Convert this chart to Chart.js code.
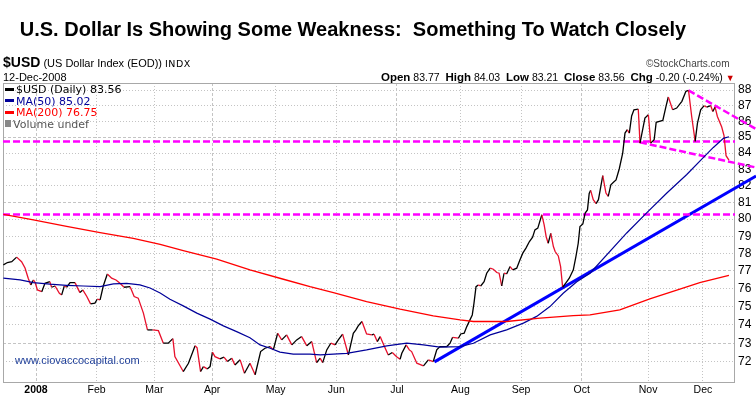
<!DOCTYPE html>
<html>
<head>
<meta charset="utf-8">
<script src="https://cdn.jsdelivr.net/npm/chart.js@4/dist/chart.umd.min.js"></script>
<style>
    body { margin: 0; background: #fff; font-family: 'Liberation Sans', Arial, sans-serif; }
    #wrap { position: relative; width: 756px; height: 398px; overflow: hidden; }
    #chart { position: absolute; left: 0; top: 0; }
    .txt { position: absolute; white-space: nowrap; color: #000; }
    .title { left: 0; width: 706px; top: 18px; text-align: center; font-weight: bold; font-size: 20px; }
    .sym { left: 3px; top: 54px; font-size: 11px; line-height: 16px; }
    .sym b { font-size: 14px; }
    .sym .ex { font-family: 'DejaVu Sans', sans-serif; font-size: 9.5px; letter-spacing: 0.5px; }
    .date { left: 3px; top: 70px; font-size: 11px; line-height: 14px; }
    .copy { left: 646px; top: 57px; color: #444; font-size: 10px; line-height: 14px; }
    .ohlc { left: 381px; top: 70px; font-size: 10.5px; line-height: 14px; }
    .ohlc b { font-size: 11.5px; }
    .ohlc .dn { color: #c00; font-size: 9px; }
    .legend { left: 5px; top: 84px; font-family: 'DejaVu Sans', sans-serif; font-size: 11px; line-height: 11.5px; }
    .legend div { height: 11.5px; }
    .sw { display: inline-block; width: 9px; height: 3px; vertical-align: middle; margin-right: 2px; margin-top: -2px; }
    .web { left: 15px; top: 354px; font-size: 11px; color: #1f3f99; }
</style>
</head>
<body>
<div id="wrap">
    <canvas id="chart" width="756" height="398"></canvas>
    <div class="txt title">U.S. Dollar Is Showing Some Weakness:&nbsp; Something To Watch Closely</div>
    <div class="txt sym"><b>$USD</b> (US Dollar Index (EOD)) <span class="ex">INDX</span></div>
    <div class="txt date">12-Dec-2008</div>
    <div class="txt copy">&copy;StockCharts.com</div>
    <div class="txt ohlc"><b>Open</b> 83.77 &nbsp;<b>High</b> 84.03 &nbsp;<b>Low</b> 83.21 &nbsp;<b>Close</b> 83.56 &nbsp;<b>Chg</b> -0.20 (-0.24%) <span class="dn">&#9660;</span></div>
    <div class="txt legend">
        <div><span class="sw" style="background:#000"></span>$USD (Daily) 83.56</div>
        <div style="color:#000099"><span class="sw" style="background:#000099"></span>MA(50) 85.02</div>
        <div style="color:#ff0000"><span class="sw" style="background:#ff0000"></span>MA(200) 76.75</div>
        <div style="color:#555"><span class="sw" style="background:#888;width:6px;height:7px;margin-top:-3px"></span>Volume undef</div>
    </div>
    <div class="txt web">www.ciovaccocapital.com</div>
</div>
<script>
// x values are trading days counted from 2-Jan-2008 (= 0)
const monthTicks = [0, 21, 41, 61, 83, 104, 125, 147, 168, 189, 212, 231];
const monthLabels = ['2008', 'Feb', 'Mar', 'Apr', 'May', 'Jun', 'Jul', 'Aug', 'Sep', 'Oct', 'Nov', 'Dec'];
const priceTicks = [72, 73, 74, 75, 76, 77, 78, 79, 80, 81, 82, 83, 84, 85, 86, 87, 88];

// $USD daily close
const usdDay = [
    -11.3, -9.9, -8.4, -6.7, -5.0, -3.8, -2.7, -1.8, -0.9, -0.3,
    0.5, 2.0, 3.1, 4.8, 5.4, 6.6, 8.1, 8.9, 9.8, 10.6,
    11.8, 13.5, 15.2, 16.2, 17.6, 18.9, 20.4, 21.2, 22.2, 23.3,
    24.7, 26.2, 27.7, 29.1, 30.5, 32.6, 34.0, 35.4, 37.2, 38.6,
    40.4, 42.4, 44.1, 45.8, 47.4, 48.1, 51.0, 52.8, 55.1, 55.8,
    57.0, 58.0, 59.3, 60.3, 61.1, 62.0, 63.7, 65.1, 66.3, 67.8,
    68.9, 70.7, 72.2, 74.1, 75.9, 77.8, 79.3, 81.1, 82.2, 83.7,
    85.1, 86.8, 88.6, 90.3, 92.0, 93.8, 95.5, 97.2, 98.4, 99.3,
    100.7, 102.1, 103.6, 104.7, 106.2, 108.2, 109.9, 110.8, 111.6, 112.9,
    114.5, 116.3, 117.1, 118.2, 119.2, 120.3, 122.0, 123.4, 124.9, 126.1,
    126.7, 128.2, 129.3, 130.1, 131.9, 134.2, 135.9, 137.6, 138.8, 139.9,
    142.3, 143.4, 144.3, 146.3, 147.1, 148.3, 149.2, 150.3, 151.1, 151.7,
    152.4, 153.2, 154.0, 155.2, 156.1, 157.3, 158.4, 159.6, 160.4, 161.3,
    162.1, 163.0, 164.2, 165.1, 166.5, 167.6, 168.6, 169.7, 170.9, 172.0,
    172.8, 173.8, 175.2, 176.0, 176.7, 177.4, 178.3, 179.2, 179.8, 180.9,
    181.7, 182.4, 183.6, 184.7, 186.1, 187.0, 187.8, 188.4, 189.4, 190.2,
    191.0, 191.6, 192.1, 193.0, 194.0, 194.8, 196.3, 197.4, 198.2, 199.1,
    200.0, 200.9, 202.0, 203.2, 204.0, 204.8, 205.5, 206.3, 207.1, 208.6,
    209.2, 210.9, 212.1, 212.9, 214.1, 214.8, 215.9, 217.1, 218.2, 219.0,
    220.5, 221.9, 223.7, 225.1, 226.0, 227.1, 228.3, 229.1, 230.2, 231.4,
    232.3, 233.7, 234.4, 235.2, 236.0, 237.5, 238.3, 239.0, 240.0
];
const usdClose = [
    77.35, 77.48, 77.53, 77.79, 77.53, 77.17, 76.59, 76.21, 76.49, 76.34,
    75.93, 75.83, 76.30, 76.39, 76.08, 76.15, 75.74, 75.65, 76.15, 76.08,
    76.34, 76.34, 75.78, 75.93, 75.56, 75.15, 75.19, 75.41, 75.37, 76.15,
    76.83, 76.59, 76.49, 76.30, 76.08, 76.11, 75.56, 75.47, 74.64, 73.72,
    73.72, 73.68, 73.00, 73.00, 73.25, 72.28, 71.49, 71.93, 72.86, 72.75,
    71.49, 71.75, 71.63, 71.75, 72.52, 72.28, 72.16, 72.25, 72.02, 72.20,
    71.84, 72.11, 71.40, 71.93, 71.32, 72.55, 72.73, 72.82, 72.64, 73.54,
    73.18, 73.45, 72.91, 73.18, 73.36, 72.86, 73.09, 71.96, 72.20, 71.96,
    72.64, 73.00, 72.91, 73.18, 73.49, 72.37, 73.54, 73.72, 73.94, 74.18,
    73.50, 73.45, 73.49, 73.09, 73.36, 72.96, 72.37, 72.50, 72.28, 72.14,
    72.46, 72.91, 72.64, 72.55, 71.93, 71.79, 72.11, 72.02, 72.64, 72.82,
    72.82, 73.00, 73.32, 73.27, 73.50, 73.54, 73.90, 74.27, 74.54, 75.19,
    76.11, 76.21, 76.15, 76.39, 76.87, 77.16, 77.10, 76.91, 76.87, 76.15,
    76.87, 76.83, 77.25, 77.06, 77.16, 77.63, 78.02, 78.31, 78.69, 78.94,
    79.37, 79.47, 80.26, 79.67, 78.97, 78.59, 79.17, 78.40, 78.11, 77.86,
    77.25, 76.08, 76.34, 76.59, 77.06, 77.82, 78.59, 79.57, 79.72, 80.36,
    80.55, 81.54, 81.72, 81.16, 80.92, 81.16, 82.61, 81.56, 81.36, 82.06,
    82.21, 82.35, 83.02, 84.00, 85.25, 85.46, 85.25, 86.33, 86.73, 86.77,
    84.62, 86.20, 86.41, 84.62, 84.83, 85.93, 85.99, 86.05, 86.95, 87.55,
    86.73, 86.84, 87.27, 87.92, 87.98, 86.30, 84.73, 85.88, 86.73, 86.99,
    86.90, 86.99, 86.62, 86.90, 86.30, 85.63, 85.09, 83.84, 83.56
];

// MA(50)
const ma50Day = [-11.3, -5.5, -0.9, 4.8, 10.6, 16.4, 22.2, 26.8, 31.4, 36.0, 39.5, 43.0, 46.4, 51.0, 55.7, 60.3, 64.9, 69.5, 74.1, 77.6, 81.1, 84.5, 89.1, 94.9, 98.4, 107.6, 114.5, 121.5, 128.4, 134.2, 139.9, 146.9, 151.5, 157.3, 163.0, 168.8, 173.4, 178.0, 182.6, 187.3, 191.9, 204.6, 211.5, 218.5, 225.4, 231.1, 234.6, 238.1, 240.0];
const ma50 = [76.59, 76.49, 76.34, 76.25, 76.19, 76.15, 76.11, 76.27, 76.30, 76.21, 76.04, 75.76, 75.41, 75.04, 74.64, 74.31, 73.94, 73.63, 73.30, 72.91, 72.73, 72.52, 72.41, 72.41, 72.37, 72.46, 72.64, 72.86, 73.00, 72.91, 72.79, 72.82, 73.00, 73.45, 73.72, 74.09, 74.46, 75.00, 75.74, 76.39, 76.87, 79.19, 80.37, 81.56, 82.68, 83.72, 84.35, 84.92, 85.02];

// MA(200)
const ma200Day = [-11.3, -0.9, 10.6, 22.2, 33.7, 43.0, 51.0, 62.6, 74.1, 85.7, 94.9, 103.0, 114.5, 126.1, 137.6, 146.9, 151.5, 163.0, 174.6, 186.1, 191.9, 202.2, 212.6, 223.0, 229.9, 240.0];
const ma200 = [80.29, 79.96, 79.57, 79.21, 78.88, 78.53, 78.17, 77.67, 77.06, 76.53, 76.11, 75.78, 75.28, 74.86, 74.49, 74.27, 74.18, 74.18, 74.36, 74.50, 74.54, 74.82, 75.43, 75.98, 76.34, 76.75];

// drawn annotations (magenta levels / channel, blue uptrend)
const levelValues = [84.72, 80.28];
const upperTrendDay = [226.0, 249.4];
const upperTrendValue = [87.98, 85.5];
const lowerTrendDay = [209.2, 249.4];
const lowerTrendValue = [84.67, 83.11];
const upTrendDay = [138.0, 249.4];
const upTrendValue = [72.0, 82.59];

const X_MIN = -11.43, X_MAX = 242.1;
const Y_MIN = 70.94, Y_MAX = 88.46;

function pairs(xs, ys) {
    return xs.map((x, i) => ({ x: x, y: ys[i] }));
}

// frame around the plot area
const framePlugin = {
    id: 'frame',
    beforeDatasetsDraw(chart) {
        const a = chart.chartArea;
        const c = chart.ctx;
        c.save();
        c.strokeStyle = '#a8a8a8';
        c.lineWidth = 1;
        c.strokeRect(a.left + 0.5, a.top + 0.5, a.right - a.left - 1, a.bottom - a.top);
        c.restore();
    }
};

const magenta = '#ff00ff';
const annotations = [
    { data: pairs([X_MIN, X_MAX], [levelValues[0], levelValues[0]]), borderColor: magenta, borderWidth: 2.5, borderDash: [7, 3] },
    { data: pairs([X_MIN, X_MAX], [levelValues[1], levelValues[1]]), borderColor: magenta, borderWidth: 2.5, borderDash: [7, 3] },
    { data: pairs(upperTrendDay, upperTrendValue), borderColor: magenta, borderWidth: 2.5, borderDash: [7, 3], clip: false },
    { data: pairs(lowerTrendDay, lowerTrendValue), borderColor: magenta, borderWidth: 2.5, borderDash: [7, 3], clip: false },
    { data: pairs(upTrendDay, upTrendValue), borderColor: '#0000ff', borderWidth: 3, clip: false }
];

new Chart(document.getElementById('chart').getContext('2d'), {
    type: 'line',
    data: {
        datasets: [
            { data: pairs(ma200Day, ma200), borderColor: '#ff0000', borderWidth: 1.3 },
            { data: pairs(ma50Day, ma50), borderColor: '#000099', borderWidth: 1.2 },
            {
                data: pairs(usdDay, usdClose),
                borderColor: '#000',
                borderWidth: 1.3,
                segment: {
                    borderColor: ctx => ctx.p1.parsed.y < ctx.p0.parsed.y ? '#e8102c' : '#000'
                }
            }
        ].concat(annotations)
    },
    options: {
        responsive: false,
        animation: false,
        layout: { padding: { top: 83, left: 3, right: 0, bottom: 0 } },
        elements: { point: { radius: 0 }, line: { tension: 0 } },
        plugins: { legend: { display: false }, tooltip: { enabled: false } },
        scales: {
            x: {
                type: 'linear',
                min: X_MIN,
                max: X_MAX,
                afterBuildTicks: scale => { scale.ticks = monthTicks.map(v => ({ value: v })); },
                afterFit: scale => { scale.height = 16; },
                ticks: {
                    autoSkip: false,
                    maxRotation: 0,
                    padding: 2,
                    color: '#000',
                    font: ctx => ({ family: "'Liberation Sans', Arial, sans-serif", size: 10.5, weight: ctx.index === 0 ? 'bold' : 'normal' }),
                    callback: value => monthLabels[monthTicks.indexOf(value)]
                },
                grid: { color: '#c4c4c4', drawTicks: false },
                border: {
                    display: false,
                    dash: ctx => (ctx.tick && [0, 61, 125, 189].includes(ctx.tick.value)) ? [3, 2] : [1, 2]
                }
            },
            y: {
                type: 'logarithmic',
                position: 'right',
                min: Y_MIN,
                max: Y_MAX,
                afterBuildTicks: scale => { scale.ticks = priceTicks.map(v => ({ value: v })); },
                afterFit: scale => { scale.width = 21; },
                ticks: {
                    padding: 3,
                    color: '#000',
                    font: { family: "'Liberation Sans', Arial, sans-serif", size: 12 },
                    callback: value => String(value)
                },
                grid: { color: '#c4c4c4', drawTicks: false },
                border: {
                    display: false,
                    dash: ctx => (ctx.tick && (ctx.tick.value - 73) % 4 === 0) ? [3, 2] : [1, 2]
                }
            }
        }
    },
    plugins: [framePlugin]
});
</script>
</body>
</html>
